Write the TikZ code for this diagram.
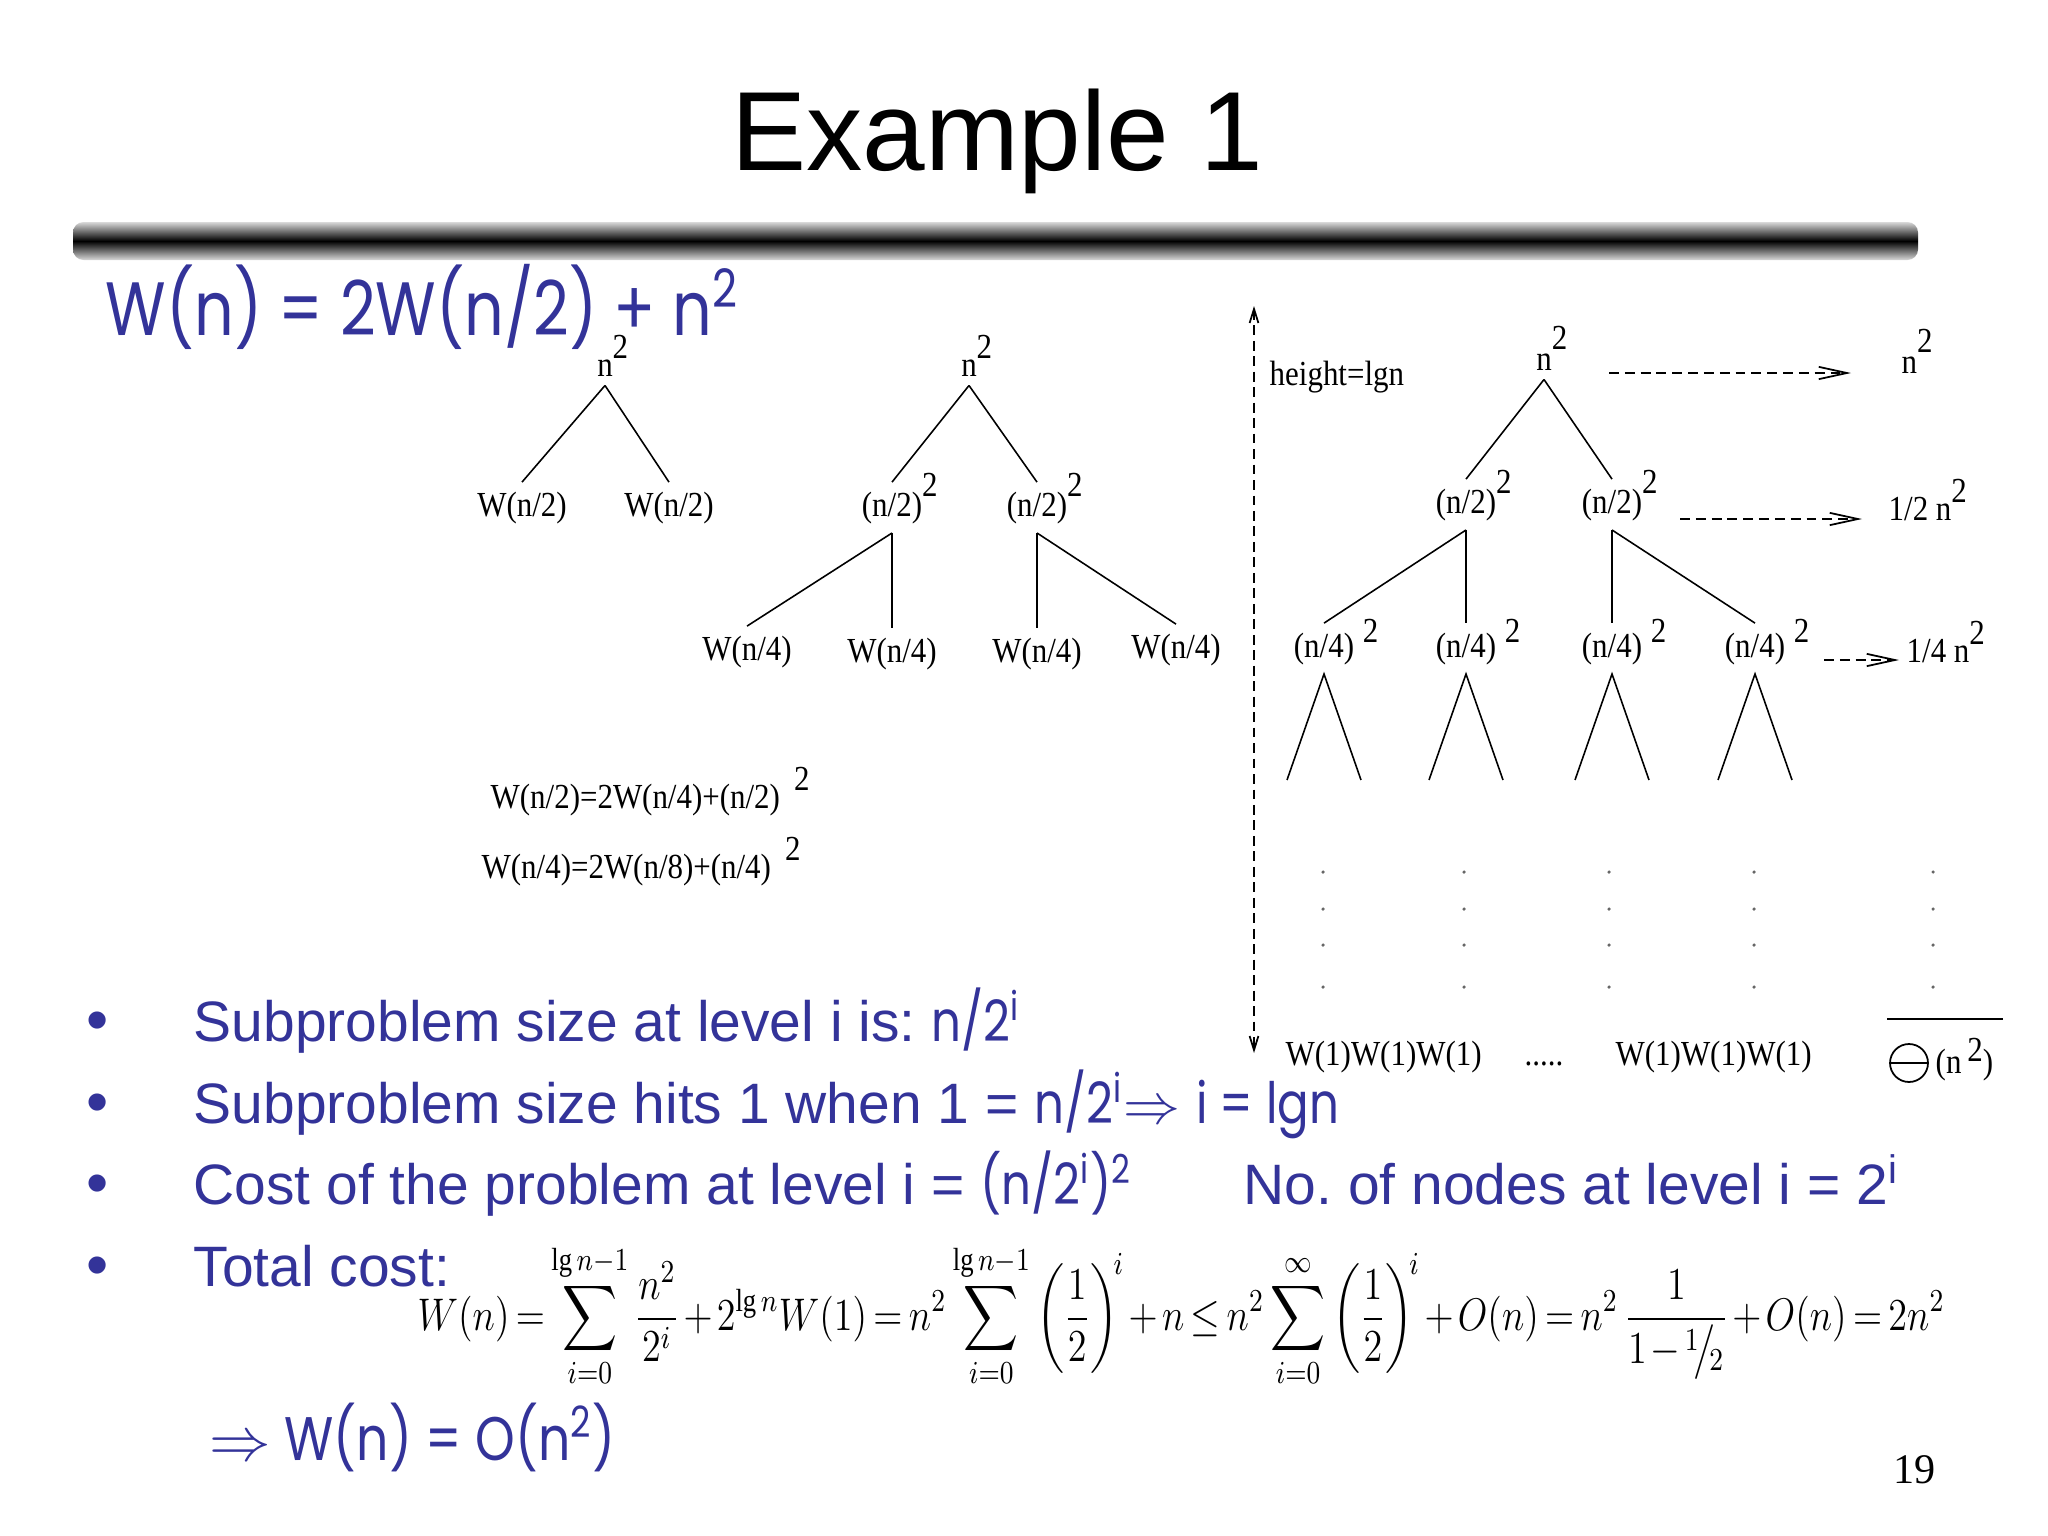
\RequirePackage{fix-cm}
\documentclass[tikz,border=0pt]{standalone}
\usepackage{amsmath, amssymb}
\usepackage{graphicx}
\usepackage{fontspec}
\setmainfont{Liberation Serif}
\newfontfamily\arialfont{Liberation Sans}
\newfontfamily\comicfont[FakeStretch=0.82]{Poppins}
\newfontfamily\treefont[FakeStretch=0.88]{Liberation Serif}
\usetikzlibrary{arrows.meta,positioning}
\definecolor{slideblue}{RGB}{51,51,153}
\newcommand{\sqr}[2][1.1ex]{#2\rlap{\raisebox{#1}[0pt][0pt]{2}}}
\newcommand{\sqs}[1]{#1\rlap{\hspace{2.5pt}\raisebox{0.9ex}[0pt][0pt]{2}}}

\tikzset{
    tlabel/.style={anchor=base, inner sep=2.5pt, font=\treefont\fontsize{10}{12}\selectfont},
    tplain/.style={tlabel, anchor=base west, inner sep=0pt},
    branch/.style={line width=0.45pt},
    levelsum/.style={dash pattern=on 2.8pt off 1.7pt, line width=0.5pt, -{Straight Barb[length=8pt,width=3.5pt]}},
    bullettext/.style={anchor=base west, inner sep=0pt, text=slideblue, font=\arialfont\fontsize{16.2}{20}\selectfont},
}

\begin{document}
\frenchspacing
\begin{tikzpicture}[x=0.01cm, y=-0.01cm]
    \useasboundingbox (0,0) rectangle (2048,1536);

    \node[anchor=base, inner sep=0pt, font=\arialfont\fontsize{32}{38}\selectfont] (title) at (997,170) {Example 1};
    \shade[top color=black!15, bottom color=black!15, middle color=black, rounded corners=3] (73,222) rectangle (1918,260);
    \node[anchor=base west, inner sep=0pt, text=slideblue, font=\comicfont\fontsize{21.5}{26}\selectfont] (rec) at (105,335) {W(n) = 2W(n/2) + n\textsuperscript{2}};

    % first expansion
    \node[tlabel] (t1r) at (605,376) {\sqr{n}};
    \node[tlabel] (t1a) at (522,516) {W(n/2)};
    \node[tlabel] (t1b) at (669,516) {W(n/2)};
    \draw[branch] (t1r.south) -- (t1a.north);
    \draw[branch] (t1r.south) -- (t1b.north);

    % second expansion
    \node[tlabel] (t2r) at (969,376) {\sqr{n}};
    \node[tlabel] (t2a) at (892,516) {\sqr[1.2ex]{(n/2)}};
    \node[tlabel] (t2b) at (1037,516) {\sqr[1.2ex]{(n/2)}};
    \node[tlabel] (t2c) at (747,660) {W(n/4)};
    \node[tlabel] (t2d) at (892,662) {W(n/4)};
    \node[tlabel] (t2e) at (1037,662) {W(n/4)};
    \node[tlabel] (t2f) at (1176,658) {W(n/4)};
    \draw[branch] (t2r.south) -- (t2a.north);
    \draw[branch] (t2r.south) -- (t2b.north);
    \draw[branch] (t2a.south) -- (t2c.north);
    \draw[branch] (t2a.south) -- (t2d.north);
    \draw[branch] (t2b.south) -- (t2e.north);
    \draw[branch] (t2b.south) -- (t2f.north);

    \node[tplain] (eq1) at (490,808) {W(n/2)=2W(n/4)+(n/2)\hspace{4pt}\raisebox{1.1ex}{2}};
    \node[tplain] (eq2) at (481,878) {W(n/4)=2W(n/8)+(n/4)\hspace{4pt}\raisebox{1.1ex}{2}};

    % recursion tree
    \coordinate (htop) at (1254,306);
    \coordinate (hbot) at (1254,1053);
    \draw[dash pattern=on 2.8pt off 1.6pt, line width=0.5pt, {Straight Barb[length=4pt,width=2.5pt]}-{Straight Barb[length=4pt,width=2.5pt]}] (htop) -- (hbot);
    \node[tplain] (height) at (1269,385) {height=lgn};

    \node[tlabel] (rr) at (1544,370) {\sqr[1.25ex]{n}};
    \node[tlabel] (r1a) at (1466,513) {\sqr[1.2ex]{(n/2)}};
    \node[tlabel] (r1b) at (1612,513) {\sqr[1.2ex]{(n/2)}};
    \node[tlabel] (r2a) at (1324,657) {\sqs{(n/4)}};
    \node[tlabel] (r2b) at (1466,657) {\sqs{(n/4)}};
    \node[tlabel] (r2c) at (1612,657) {\sqs{(n/4)}};
    \node[tlabel] (r2d) at (1755,657) {\sqs{(n/4)}};
    \draw[branch] (rr.south) -- (r1a.north);
    \draw[branch] (rr.south) -- (r1b.north);
    \draw[branch] (r1a.south) -- (r2a.north);
    \draw[branch] (r1a.south) -- (r2b.north);
    \draw[branch] (r1b.south) -- (r2c.north);
    \draw[branch] (r1b.south) -- (r2d.north);
    \foreach \n in {r2a,r2b,r2c,r2d}
        \draw[branch] (\n.south) ++(-37,106) -- (\n.south) -- ++(37,106);

    \foreach \x in {1323,1464,1609,1754,1933}
        \foreach \y in {872,909,945,987}
            \fill[black!60] (\x,\y) circle (0.5pt);

    \node[tplain] (leaves1) at (1285,1065) {W(1)W(1)W(1)};
    \node[tplain] (gap) at (1524,1065) {.....};
    \node[tplain] (leaves2) at (1615,1065) {W(1)W(1)W(1)};

    % level sums
    \coordinate (s0a) at (1609,373); \coordinate (s0b) at (1851,373);
    \coordinate (s1a) at (1680,519); \coordinate (s1b) at (1862,519);
    \coordinate (s2a) at (1824,660); \coordinate (s2b) at (1899,660);
    \draw[levelsum] (s0a) -- (s0b);
    \draw[levelsum] (s1a) -- (s1b);
    \draw[levelsum] (s2a) -- (s2b);
    \node[tplain] (sum0) at (1901,373) {\sqr[1.25ex]{n}};
    \node[tplain] (sum1) at (1888,520) {1/2 \sqr[1.1ex]{n}};
    \node[tplain] (sum2) at (1906,662) {1/4 \sqr[1.1ex]{n}};
    \draw[line width=0.7pt] (1887,1019) -- (2003,1019);
    \node[draw, circle, minimum size=10.8pt, inner sep=0pt, line width=0.5pt] (theta) at (1909,1063) {};
    \draw[line width=0.5pt] (theta.west) -- (theta.east);
    \node[tplain] (total0) at (1935,1073) {(n\,\raisebox{0.7ex}{2})};

    % bullets
    \foreach \y/\b in {1041/b1,1123/b2,1204/b3,1286/b4}
        \node[bullettext, anchor=base, font=\arialfont\fontsize{18}{20}\selectfont] (\b) at (98,\y) {\textbullet};
    \node[bullettext] (l1) at (193,1041) {Subproblem size at level i is: {\comicfont n/2\textsuperscript{i}}};
    \node[bullettext] (l2) at (193,1123) {Subproblem size hits 1 when 1 = {\comicfont n/2\textsuperscript{i}}$\Rightarrow$ {\comicfont i = lgn}};
    \node[bullettext] (l3) at (193,1204) {Cost of the problem at level i = {\comicfont (n/2\textsuperscript{i})\textsuperscript{2}}};
    \node[bullettext] (l3b) at (1243,1204) {No. of nodes at level i = 2\textsuperscript{i}};
    \node[bullettext] (l4) at (193,1286) {Total cost:};

    \node[anchor=base west, inner sep=0pt, font=\fontsize{13}{16}\selectfont] (sum) at (417,1330)
        {\medmuskip=2mu \thickmuskip=3mu \scalebox{0.835}[1]{$\displaystyle W(n)=\sum_{i=0}^{\lg n-1}\frac{n^2}{2^i}+2^{\lg n}W(1)=n^2\sum_{i=0}^{\lg n-1}\left(\frac{1}{2}\right)^{\!i}+n\le n^2\sum_{i=0}^{\infty}\left(\frac{1}{2}\right)^{\!i}+O(n)=n^2\,\frac{1}{1-{}^{1}\!\big/\!_{2}}+O(n)=2n^2$}};

    \node[anchor=base west, inner sep=0pt, text=slideblue, font=\comicfont\fontsize{17.5}{22}\selectfont] (result) at (209,1460) {$\Rightarrow$ W(n) = O(n\textsuperscript{2})};
    \node[anchor=base west, inner sep=0pt, font=\fontsize{12}{14}\selectfont] (page) at (1893,1483) {19};
\end{tikzpicture}
\end{document}
